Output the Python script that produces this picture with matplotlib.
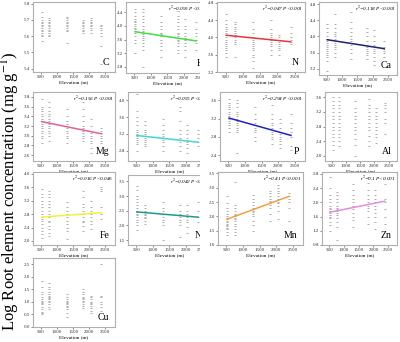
import matplotlib
matplotlib.use("Agg")
import matplotlib.pyplot as plt
from matplotlib.patches import Rectangle

plt.rcParams['font.family'] = ['Liberation Serif', 'DejaVu Serif']
plt.rcParams['mathtext.fontset'] = 'stix'

elev = [520, 760, 1300, 1820, 2040, 2380]

C = [[5.57, 5.60, 5.61, 5.62, 5.63, 5.64, 5.65, 5.66, 5.67, 5.68, 5.69, 5.70, 5.72, 5.75],
     [5.60, 5.61, 5.62, 5.63, 5.64, 5.65, 5.66, 5.67, 5.68, 5.69, 5.70, 5.71],
     [5.56, 5.63, 5.64, 5.65, 5.66, 5.67, 5.68, 5.69, 5.70, 5.71, 5.72],
     [5.62, 5.63, 5.64, 5.65, 5.66, 5.67, 5.68, 5.69, 5.70],
     [5.62, 5.64, 5.65, 5.66, 5.67, 5.68, 5.69, 5.70, 5.71],
     [5.43, 5.54, 5.60, 5.62, 5.64, 5.65, 5.66, 5.67]]
K = [[3.2, 3.5, 3.6, 3.7, 3.8, 3.85, 3.9, 3.95, 4.0, 4.05, 4.1, 4.15, 4.2, 4.3, 4.4, 4.5],
     [2.8, 3.3, 3.4, 3.5, 3.6, 3.65, 3.7, 3.75, 3.8, 3.85, 3.9, 4.0, 4.1, 4.2, 4.3, 4.4, 4.5],
     [3.1, 3.3, 3.4, 3.5, 3.6, 3.7, 3.75, 3.8, 3.9, 4.0, 4.1, 4.3],
     [3.2, 3.3, 3.4, 3.5, 3.55, 3.6, 3.65, 3.7, 3.75, 3.8, 3.9, 4.0, 4.1, 4.2, 4.3, 4.45],
     [3.1, 3.3, 3.4, 3.5, 3.6, 3.65, 3.7, 3.8, 3.9, 4.0, 4.2],
     [3.3, 3.5, 3.6, 3.7, 3.8, 3.9, 4.1]]
N = [[3.55, 3.65, 3.7, 3.75, 3.8, 3.85, 3.9, 3.95, 4.0, 4.05, 4.1, 4.15, 4.2, 4.25, 4.3, 4.4, 4.55],
     [3.55, 3.85, 3.9, 3.95, 4.0, 4.05, 4.1, 4.15, 4.2, 4.25, 4.3, 4.35],
     [3.3, 3.45, 3.55, 3.6, 3.7, 3.75, 3.8, 3.85, 3.9, 3.95, 4.0, 4.1, 4.2, 4.35],
     [3.6, 3.7, 3.8, 3.85, 3.9, 3.95, 4.0, 4.05, 4.1, 4.2, 4.4],
     [3.6, 3.7, 3.75, 3.8, 3.85, 3.9, 3.95, 4.0, 4.05],
     [3.85, 3.9, 3.95, 4.0, 4.1, 4.25]]
Ca = [[3.15, 3.4, 3.5, 3.55, 3.6, 3.65, 3.7, 3.75, 3.8, 3.85, 3.9, 3.95, 4.0, 4.1, 4.2, 4.3],
      [3.5, 3.6, 3.7, 3.75, 3.8, 3.85, 3.9, 3.95, 4.0, 4.05, 4.1, 4.2, 4.3, 4.55],
      [3.45, 3.6, 3.7, 3.8, 3.85, 3.9, 3.95, 4.0, 4.1, 4.2, 4.35, 4.6],
      [3.45, 3.55, 3.6, 3.65, 3.7, 3.75, 3.8, 3.9, 4.0, 4.1, 4.2],
      [3.3, 3.4, 3.5, 3.6, 3.65, 3.7, 3.8, 3.9, 4.0, 4.15],
      [3.5, 3.6, 3.65, 3.7, 3.75, 3.9]]
Mg = [[2.85, 2.95, 3.0, 3.05, 3.1, 3.15, 3.2, 3.25, 3.3, 3.35, 3.4, 3.45, 3.5, 3.55, 3.6, 3.75],
      [2.9, 3.0, 3.05, 3.1, 3.15, 3.2, 3.25, 3.3, 3.35, 3.4, 3.45, 3.5, 3.6, 3.7],
      [2.85, 2.95, 3.0, 3.05, 3.1, 3.15, 3.2, 3.25, 3.3, 3.4, 3.55],
      [2.9, 2.95, 3.0, 3.05, 3.1, 3.15, 3.2, 3.3, 3.4, 3.55, 3.7],
      [2.65, 2.75, 2.85, 2.9, 2.95, 3.0, 3.05, 3.1, 3.2, 3.35],
      [2.85, 2.9, 2.95, 3.0, 3.05, 3.1, 3.15]]
S = [[2.8, 2.95, 3.0, 3.05, 3.1, 3.15, 3.2, 3.25, 3.3, 3.4, 3.5, 3.6, 3.75, 4.15],
     [2.9, 2.95, 3.0, 3.05, 3.1, 3.15, 3.2, 3.25, 3.3, 3.4, 3.5],
     [2.8, 2.9, 3.0, 3.05, 3.1, 3.15, 3.2, 3.3, 3.4, 3.55],
     [2.8, 2.9, 3.0, 3.05, 3.1, 3.2, 3.3, 3.5, 3.75, 3.85],
     [2.75, 2.85, 2.95, 3.0, 3.05, 3.1, 3.2, 3.3, 3.4],
     [2.9, 3.0, 3.1, 3.2, 3.3]]
P = [[2.9, 3.0, 3.05, 3.1, 3.15, 3.2, 3.25, 3.3, 3.35, 3.4, 3.45, 3.5, 3.55, 3.63],
     [2.45, 2.9, 2.95, 3.0, 3.05, 3.1, 3.15, 3.2, 3.25, 3.3, 3.35, 3.45, 3.55, 3.6],
     [2.7, 2.8, 2.9, 2.95, 3.0, 3.05, 3.1, 3.2, 3.3, 3.45],
     [2.65, 2.75, 2.8, 2.85, 2.9, 2.95, 3.0, 3.05, 3.1, 3.2, 3.3, 3.5],
     [2.55, 2.65, 2.7, 2.75, 2.8, 2.85, 2.9, 3.0, 3.1, 3.2],
     [2.5, 2.6, 2.8, 2.9, 3.0, 3.1, 3.3]]
Al = [[2.15, 2.3, 2.4, 2.5, 2.6, 2.7, 2.8, 2.9, 3.0, 3.1, 3.2, 3.3, 3.4, 3.5, 3.6],
      [2.25, 2.4, 2.5, 2.6, 2.7, 2.8, 2.9, 3.0, 3.1, 3.2, 3.3, 3.4, 3.5, 3.6],
      [2.0, 2.3, 2.45, 2.6, 2.7, 2.8, 2.9, 3.0, 3.1, 3.2, 3.3, 3.5],
      [2.25, 2.4, 2.55, 2.7, 2.8, 2.9, 3.0, 3.1, 3.2, 3.3, 3.4, 3.55],
      [2.35, 2.5, 2.6, 2.7, 2.8, 2.9, 3.0, 3.1, 3.2, 3.3],
      [2.6, 2.9, 3.0, 3.2, 3.3, 3.4, 3.45]]
Fe = [[2.1, 2.2, 2.3, 2.4, 2.5, 2.6, 2.65, 2.7, 2.8, 2.9, 3.0, 3.1, 3.2, 3.3, 3.4, 3.55],
      [2.15, 2.25, 2.35, 2.45, 2.55, 2.6, 2.7, 2.8, 2.9, 3.0, 3.1, 3.2, 3.3, 3.4, 3.5],
      [2.05, 2.3, 2.4, 2.5, 2.6, 2.7, 2.8, 2.9, 3.0, 3.15],
      [2.3, 2.45, 2.55, 2.6, 2.7, 2.8, 2.9, 3.0, 3.1, 3.3, 3.5],
      [2.35, 2.5, 2.6, 2.7, 2.8, 2.9, 3.0, 3.2],
      [2.65, 2.8, 3.0, 3.5, 3.55, 3.6]]
Na = [[1.85, 2.0, 2.1, 2.2, 2.3, 2.35, 2.4, 2.45, 2.5, 2.6, 2.7, 2.8, 2.9, 3.0, 3.2, 3.35],
      [2.05, 2.15, 2.25, 2.3, 2.35, 2.4, 2.45, 2.5, 2.6, 2.7],
      [1.5, 2.0, 2.1, 2.2, 2.3, 2.4, 2.5, 2.6, 2.8],
      [1.6, 2.0, 2.1, 2.2, 2.3, 2.35, 2.4, 2.5, 2.7],
      [1.75, 1.95, 2.1, 2.2, 2.3, 2.4, 2.5, 2.7],
      [2.1, 2.3, 2.5, 2.8]]
Mn = [[1.35, 1.45, 1.55, 1.6, 1.65, 1.7, 1.75, 1.8, 1.85, 1.9, 1.95, 2.0, 2.1, 2.2, 2.3, 2.45, 2.7],
      [1.35, 1.45, 1.55, 1.65, 1.75, 1.85, 1.9, 1.95, 2.0, 2.05, 2.1, 2.2, 2.3, 2.4, 3.2],
      [1.5, 1.7, 1.85, 2.0, 2.1, 2.15, 2.2, 2.25, 2.3, 2.4, 2.5, 2.6, 2.75],
      [1.85, 2.1, 2.3, 2.4, 2.45, 2.5, 2.55, 2.6, 2.7, 2.8, 2.9],
      [1.9, 2.2, 2.35, 2.45, 2.5, 2.6, 2.7, 2.8, 2.9, 3.0, 3.1],
      [1.85, 2.3, 2.5, 2.6, 2.7, 2.8]]
Zn = [[1.2, 1.35, 1.45, 1.55, 1.6, 1.65, 1.7, 1.75, 1.8, 1.85, 1.9, 2.0, 2.1, 2.2, 2.4, 2.7],
      [0.95, 1.3, 1.45, 1.55, 1.65, 1.7, 1.75, 1.8, 1.85, 1.9, 2.0, 2.1, 2.2, 2.3],
      [1.3, 1.5, 1.6, 1.7, 1.8, 1.9, 2.0, 2.1, 2.2, 2.35, 2.5],
      [1.4, 1.6, 1.75, 1.85, 1.9, 1.95, 2.0, 2.1, 2.2, 2.35, 2.55, 2.7],
      [1.25, 1.45, 1.6, 1.7, 1.8, 1.9, 2.0, 2.1, 2.2, 2.35],
      [1.4, 1.6, 1.8, 2.0, 2.1, 2.5]]
Cu = [[0.5, 0.55, 0.6, 0.7, 0.8, 0.9, 0.95, 1.0, 1.05, 1.1, 1.2, 1.3, 1.4, 1.6, 1.85],
      [0.7, 0.8, 0.9, 1.0, 1.05, 1.1, 1.15, 1.2, 1.25, 1.3, 1.4, 1.5, 1.6, 1.75],
      [0.4, 0.55, 0.7, 0.8, 0.85, 0.9, 0.95, 1.0, 1.05, 1.1, 1.2, 1.3],
      [0.75, 0.85, 0.9, 1.0, 1.05, 1.1, 1.15, 1.2, 1.3, 1.4, 1.5],
      [0.55, 0.65, 0.75, 0.85, 0.9, 0.95, 1.0, 1.1, 1.2, 1.25],
      [0.65, 0.8, 0.9, 1.0, 1.2, 1.25, 2.5]]

# fitted trend values at (first, last) elevation
trend_x = [520, 2380]
K_trend = [3.83, 3.56]
N_trend = [4.05, 3.90]
Ca_trend = [3.92, 3.70]
Mg_trend = [3.29, 3.04]
S_trend = [3.16, 3.00]
P_trend = [3.21, 2.83]
Fe_trend = [2.71, 2.84]
Na_trend = [2.46, 2.28]
Mn_trend = [1.90, 2.70]
Zn_trend = [1.72, 2.03]

stats = {'K': 'r$^2$=0.095 P<0.001', 'N': 'r$^2$=0.047 P<0.001', 'Ca': 'r$^2$=0.118 P<0.001',
         'Mg': 'r$^2$=0.156 P<0.001', 'S': 'r$^2$=0.055 P<0.001', 'P': 'r$^2$=0.294 P<0.001',
         'Fe': 'r$^2$=0.016 P<0.046', 'Na': 'r$^2$=0.042 P<0.001', 'Mn': 'r$^2$=0.41 P<0.001',
         'Zn': 'r$^2$=0.1 P<0.001'}

# name, data, trend, colour, yticks, ylim, box(px: left,right,top,bottom)
panels = [
    ('C', C, None, None, [5.4, 5.5, 5.6, 5.7, 5.8], (5.38, 5.81), (33, 115, 2, 72)),
    ('K', K, K_trend, '#3ee03e', [2.8, 3.2, 3.6, 4.0, 4.4], (2.62, 4.7), (126, 210, 2, 73)),
    ('N', N, N_trend, '#e8343c', [3.2, 3.6, 4.0, 4.4, 4.8], (3.2, 4.82), (217, 305, 2, 72)),
    ('Ca', Ca, Ca_trend, '#1f1f7a', [3.2, 3.6, 4.0, 4.4, 4.8], (3.05, 4.85), (319, 397, 2, 75)),
    ('Mg', Mg, Mg_trend, '#e0609a', [2.6, 2.8, 3.0, 3.2, 3.4, 3.6, 3.8], (2.48, 3.9), (33, 115, 92, 161)),
    ('S', S, S_trend, '#3dd8cf', [2.8, 3.2, 3.6, 4.0], (2.55, 4.2), (128, 212, 92, 161)),
    ('P', P, P_trend, '#2020c8', [2.4, 2.8, 3.2, 3.6], (2.27, 3.78), (220, 305, 92, 161)),
    ('Al', Al, None, None, [2.0, 2.4, 2.8, 3.2, 3.6], (1.85, 3.75), (325, 397, 92, 161)),
    ('Fe', Fe, Fe_trend, '#f2f23c', [2.0, 2.4, 2.8, 3.2, 3.6, 4.0], (1.88, 4.05), (33, 115, 172, 245)),
    ('Na', Na, Na_trend, '#1e9a8a', [1.5, 2.0, 2.5, 3.0, 3.5], (1.33, 3.72), (128, 212, 175, 245)),
    ('Mn', Mn, Mn_trend, '#f0a040', [1.0, 1.5, 2.0, 2.5, 3.0, 3.5], (1.0, 3.55), (218, 303, 172, 245)),
    ('Zn', Zn, Zn_trend, '#e58ae5', [0.8, 1.2, 1.6, 2.0, 2.4, 2.8], (0.8, 2.85), (322, 397, 172, 245)),
    ('Cu', Cu, None, None, [0.0, 0.5, 1.0, 1.5, 2.0, 2.5], (0.0, 2.75), (33, 115, 258, 327)),
]

W, H = 400, 342
fig = plt.figure(figsize=(4.0, 3.42), dpi=100)
frame_col = '#b0b0b0'

for name, data, trend, col, yt, yl, (l, r, t, b) in panels:
    ax = fig.add_axes([l / W, 1 - b / H, (r - l) / W, (b - t) / H])
    if l > 200:
        ax.set_zorder(3)
    for x, vals in zip(elev, data):
        ax.plot([x] * len(vals), vals, linestyle='none', marker='_', ms=1.4,
                mew=0.5, color='#8a8a8a', zorder=2)
    if trend is not None:
        ax.plot(trend_x, trend, color=col, lw=1.1, zorder=3)
        ax.text(0.98, 0.97, stats[name], transform=ax.transAxes, ha='right', va='top',
                fontsize=3.8, style='italic')
    ax.set_xlim(250, 2800)
    ax.set_xticks([500, 1000, 1500, 2000, 2500])
    ax.set_yticks(yt)
    ax.set_ylim(*yl)
    ax.tick_params(labelsize=3.6, length=1.2, width=0.4, pad=1, colors='#333333')
    for s in ax.spines.values():
        s.set_color(frame_col)
        s.set_linewidth(0.8)
    ax.set_xlabel('Elevation (m)', fontsize=3.8, labelpad=0.5)
    ax.text(0.93, 0.07, name, transform=ax.transAxes, ha='right', va='bottom', fontsize=7)

# white mask hiding the cut-off right side of the second column
fig.add_artist(Rectangle((200 / W, 0), 17 / W, 1, transform=fig.transFigure,
                         facecolor='white', edgecolor='none', zorder=2))

fig.text(10.5 / W, 0.44, 'Log Root element concentration (mg g$^{-1}$)', rotation=90,
         ha='center', va='center', fontsize=12)

fig.savefig('out.png', dpi=100)
